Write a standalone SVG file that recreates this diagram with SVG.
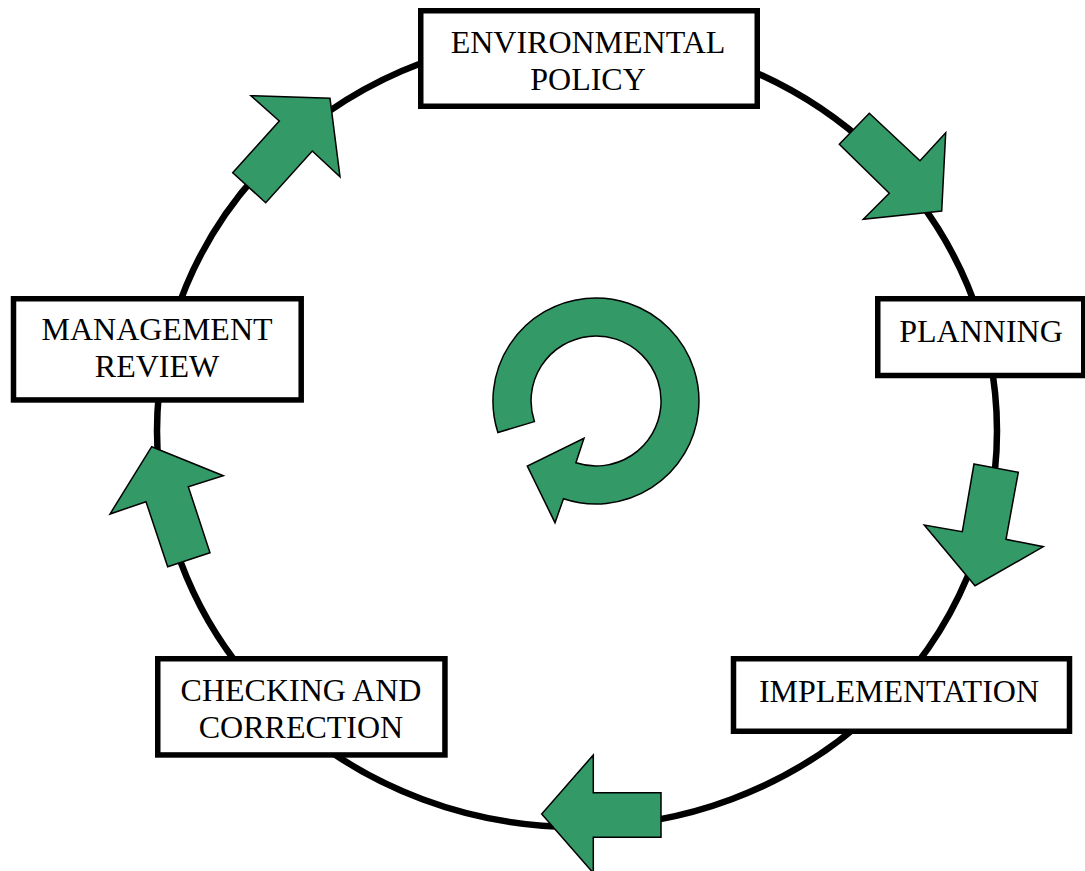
<svg xmlns="http://www.w3.org/2000/svg" width="1085" height="871" viewBox="0 0 1085 871">
<style>
.box{fill:#fff;stroke:#000;stroke-width:5.5}
.lbl{font-family:"Liberation Serif","Times New Roman",serif;font-size:32px;fill:#000;text-anchor:middle}
.arr{fill:#339966;stroke:#000;stroke-width:1.5;stroke-linejoin:miter}
</style>
<rect width="1085" height="871" fill="#fff"/>
<g id="connectors">
<ellipse cx="577" cy="431" rx="420" ry="396" fill="none" stroke="#000" stroke-width="6.5"/>
<polygon class="arr" points="869.3,113.3 920,160.7 945.7,132.7 941.7,211 863.3,219.3 889.3,193.3 839.3,144.3"/>
<polygon class="arr" points="974,464 1018.3,472.3 1006,539.3 1043.3,546.7 975,585.7 924.3,525 962.3,531.7"/>
<polygon class="arr" points="541.7,814 593.3,755 593.3,792.7 661,792.7 661,837.3 593.3,837.3 593.3,873"/>
<polygon class="arr" points="151.7,446.7 223.3,475.7 188.3,486.7 210,552.7 167.7,566.7 146,501.7 110,514"/>
<polygon class="arr" points="251,95.7 330,98.3 340,176.7 312.3,151 265.7,202.7 232.7,172.7 279.3,121"/>
</g>
<g id="cycle-symbol">
<path class="arr" d="M497.9,432.5 A103,103 0 1 1 563.5,498.7 L555,522.7 L527.3,466 L584,438.3 L575.9,462.8 A65,65 0 1 0 534.4,421.6 Z"/>
</g>
<g id="node-environmental-policy">
<rect class="box" x="420.75" y="10.75" width="336.5" height="95.5"/>
<text class="lbl" x="588" y="53">ENVIRONMENTAL</text>
<text class="lbl" x="588" y="90">POLICY</text>
</g>
<g id="node-planning">
<rect class="box" x="877.75" y="298.75" width="206" height="76.75"/>
<text class="lbl" x="981" y="341.7">PLANNING</text>
</g>
<g id="node-implementation">
<rect class="box" x="733.5" y="658.75" width="336" height="72.5"/>
<text class="lbl" x="899" y="701.7">IMPLEMENTATION</text>
</g>
<g id="node-checking-correction">
<rect class="box" x="157.75" y="658.75" width="287.2" height="96.2"/>
<text class="lbl" x="301" y="701">CHECKING AND</text>
<text class="lbl" x="301" y="737.7">CORRECTION</text>
</g>
<g id="node-management-review">
<rect class="box" x="13.5" y="298.75" width="287.7" height="101.2"/>
<text class="lbl" x="157" y="340">MANAGEMENT</text>
<text class="lbl" x="157" y="377.3">REVIEW</text>
</g>
</svg>
